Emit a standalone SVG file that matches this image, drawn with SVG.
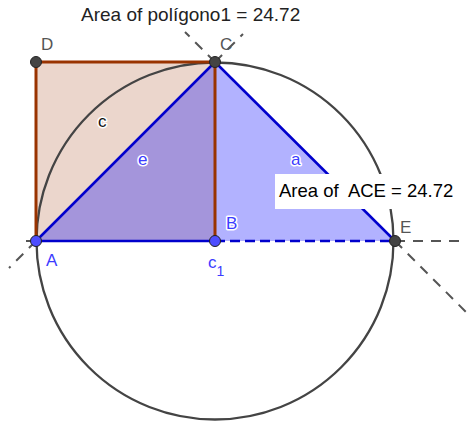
<svg xmlns="http://www.w3.org/2000/svg" width="469" height="422" viewBox="0 0 469 422">
<style>
.lbl{font-family:"Liberation Sans",Arial,sans-serif;font-size:17px}
.halo{paint-order:stroke;stroke:#fff;stroke-width:3px;stroke-linejoin:round}
.gray{fill:#555}
.blue{fill:#3c3cff}
.dash{stroke:#555;stroke-width:2;stroke-dasharray:10 8;fill:none}
.pt{stroke:#222;stroke-width:1}
</style>
<rect width="469" height="422" fill="#fff"/>
<g id="square_fill"><polygon points="36,241 215,241 215,62 36,62" fill="#993300" fill-opacity="0.2"/></g>
<g id="triangle_fill"><polygon points="36,241 215,62 395,241" fill="#0000ff" fill-opacity="0.3"/></g>
<g id="circle"><circle cx="215" cy="241" r="178.5" fill="none" stroke="#444" stroke-width="2.3"/></g>
<g id="connectors">
  <line class="dash" x1="36" y1="241" x2="9" y2="268"/>
  <line class="dash" x1="215" y1="62" x2="243" y2="34"/>
  <line class="dash" x1="215" y1="62" x2="185" y2="32"/>
  <line class="dash" x1="395" y1="241" x2="466" y2="312"/>
  <line class="dash" x1="36" y1="241" x2="19" y2="241"/>
  <line class="dash" x1="395" y1="241" x2="463" y2="241"/>
  <g id="square_edges" stroke="#993300" stroke-width="3" fill="none">
    <line x1="36" y1="62" x2="215" y2="62"/>
    <line x1="36" y1="62" x2="36" y2="241"/>
    <line x1="215" y1="62" x2="215" y2="241"/>
  </g>
  <line id="e" x1="36" y1="241" x2="215" y2="62" stroke="#0000cc" stroke-width="2.5"/>
  <line id="a" x1="215" y1="62" x2="395" y2="241" stroke="#0000cc" stroke-width="2.5"/>
  <line id="c1" x1="36" y1="241" x2="215" y2="241" stroke="#0000cc" stroke-width="2.5"/>
  <line id="BE" x1="215" y1="241" x2="395" y2="241" stroke="#0000cc" stroke-width="2.5" stroke-dasharray="10 5"/>
</g>
<g id="areaACE">
  <rect x="275" y="174" width="183" height="35" fill="#fff"/>
  <text x="279" y="197" font-family="Liberation Sans,Arial,sans-serif" font-size="18.5" fill="#000" xml:space="preserve">Area of  ACE = 24.72</text>
</g>
<g id="areaPoly">
  <text x="81" y="21" font-family="Liberation Sans,Arial,sans-serif" font-size="19" fill="#222">Area of polígono1 = 24.72</text>
</g>
<g id="D"><circle class="pt" cx="36" cy="62" r="5.5" fill="#444"/><text class="lbl gray" x="41" y="50">D</text></g>
<g id="C"><circle class="pt" cx="215" cy="62" r="5.5" fill="#444"/><text class="lbl gray" x="220" y="50">C</text></g>
<g id="E"><circle class="pt" cx="395" cy="241" r="5.5" fill="#444"/><text class="lbl gray" x="400" y="233">E</text></g>
<g id="A"><circle class="pt" cx="36" cy="241" r="5.5" fill="#4d4dff"/><text class="lbl blue" x="46" y="266">A</text></g>
<g id="B"><circle class="pt" cx="215" cy="241" r="5.5" fill="#4d4dff"/><text class="lbl blue halo" x="226" y="229">B</text></g>
<g id="labels">
  <text class="lbl halo" x="98" y="127" fill="#111">c</text>
  <text class="lbl blue halo" x="138" y="165">e</text>
  <text class="lbl blue halo" x="291" y="165">a</text>
  <text class="lbl blue" x="208" y="268">c<tspan font-size="14" dy="8">1</tspan></text>
</g>
</svg>
